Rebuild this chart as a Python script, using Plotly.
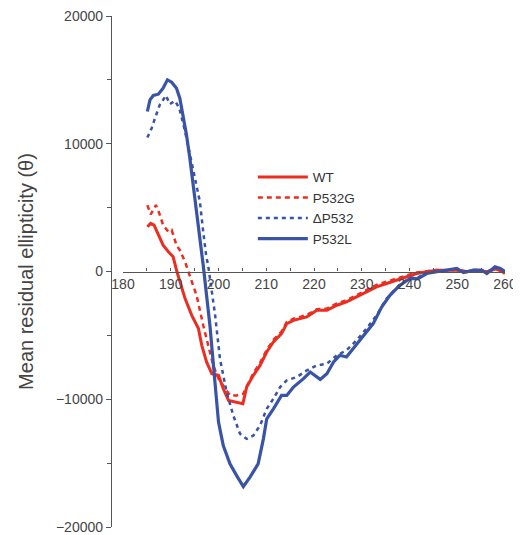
import plotly.graph_objects as go

# ---- data ----
wt_x = [185.1, 185.8, 186.5, 187.4, 188.4, 189.5, 190.5, 191.3, 191.8, 193.0, 194.4, 195.8, 196.5,
        197.5, 198.6, 200.0, 201.0, 202.1, 203.5, 205.1, 205.9, 207.3, 208.7, 210.1, 211.5, 213.2,
        214.3, 215.7, 217.1, 218.5, 220.6, 222.7, 224.8, 226.8, 228.9, 231.0, 233.1, 235.2, 237.3,
        239.4, 241.5, 243.6, 245.7, 247.8, 249.9, 252.0, 254.1, 256.2, 258.3, 260.0]
wt_y = [3500, 3765, 3630, 2850, 2060, 1545, 1150, -20, -700, -2120, -3430, -4470, -5780,
        -7080, -8000, -8130, -9180, -10090, -10220, -10350, -9045, -8130, -7350, -6300, -5515, -4860,
        -4080, -3820, -3690, -3550, -3035, -3035, -2640, -2375, -1985, -1590, -1200, -940, -680,
        -415, -160, -20, 100, 100, 100, -20, 100, -20, 235, -160]

g_x = [185.1, 185.8, 186.9, 187.6, 188.4, 189.5, 190.2, 191.2, 191.9, 193.0, 193.7, 195.4, 196.8,
       197.9, 198.9, 200.0, 201.4, 202.4, 203.8, 205.2, 206.2, 207.3, 208.7, 210.1, 211.5, 213.2,
       214.3, 215.7, 217.1, 218.5, 220.6, 222.7, 224.8, 226.8, 228.9, 231.0, 233.1, 235.2, 237.3,
       239.4, 241.5, 243.6, 245.7, 247.8, 249.9, 252.0, 254.1, 256.2, 258.3, 260.0]
g_y = [5200, 4470, 5200, 4550, 3630, 3110, 3240, 2060, 1670, 760, -20, -1860, -4210,
       -5780, -7350, -8390, -9180, -9700, -9700, -9570, -8780, -7950, -7150, -6150, -5350, -4700,
       -3950, -3700, -3550, -3400, -2950, -2900, -2500, -2250, -1850, -1450, -1050, -800, -520,
       -300, -80, 0, 120, 60, 150, 0, 80, -60, 150, -100]

d_x = [185.1, 186.0, 186.7, 187.7, 189.0, 189.8, 190.9, 191.8, 193.0, 194.0, 195.1, 196.1, 196.8,
       197.4, 197.9, 199.3, 200.3, 201.7, 203.1, 204.5, 205.9, 207.3, 208.7, 210.1, 211.5, 212.9,
       214.3, 216.4, 218.5, 220.6, 222.7, 224.8, 226.8, 228.9, 231.0, 233.1, 235.2, 238.0, 240.1,
       241.8, 243.6, 245.7, 247.8, 249.9, 251.3, 253.4, 255.1, 256.2, 257.9, 259.0, 260.0]
d_y = [10485, 11215, 12000, 13040, 13780, 13100, 13360, 12780, 10960, 9120, 7290, 5470, 3110,
       1300, 300, -3430, -6820, -9440, -11270, -12700, -13100, -12840, -12050, -10745, -9960, -9045,
       -8520, -8260, -7740, -7350, -7215, -6560, -6170, -5390, -4470, -3430, -2120, -1000, -500,
       -450, -120, 0, 120, 200, -40, 120, 100, -100, 300, 250, 0]

l_x = [185.1, 185.65, 186.35, 187.4, 188.4, 189.3, 190.2, 191.2, 191.9, 192.6, 193.3, 194.0, 194.7,
       195.4, 196.1, 196.8, 198.2, 199.3, 200.0, 201.0, 202.4, 203.8, 205.2, 206.6, 208.3, 209.4,
       210.1, 211.5, 213.2, 214.3, 215.7, 217.8, 219.2, 221.3, 222.7, 224.1, 225.4, 226.8, 228.2,
       230.3, 232.4, 234.2, 235.9, 238.0, 240.1, 241.8, 243.6, 245.7, 247.8, 249.9, 251.3, 253.4,
       255.1, 256.2, 257.9, 259.0, 260.0]
l_y = [12525, 13435, 13780, 13880, 14350, 15000, 14820, 14350, 13570, 12260, 10690, 8860, 6770,
       4680, 2590, 490, -4210, -8920, -11790, -13620, -15060, -15980, -16840, -16100, -15060, -13100,
       -11530, -10745, -9700, -9700, -9045, -8390, -7870, -8445, -8000, -7080, -6560, -6690, -6040,
       -5000, -4080, -2770, -1860, -1075, -550, -550, -160, -20, 100, 235, -80, 100,
       100, -160, 370, 235, -20]

series_names = ["WT", "P532G", "\u0394P532", "P532L"]
x_ticks = [180, 190, 200, 210, 220, 230, 240, 250, 260]
y_ticks = [-20000, -10000, 0, 10000, 20000]
y_ticklabels = ["\u221220000", "\u221210000", "0", "10000", "20000"]

RED = "#ec2d1f"
BLUE = "#3953a6"
AX = "#555555"
FONT = "Liberation Sans, Arial, sans-serif"

fig = go.Figure()
fig.add_trace(go.Scatter(x=wt_x, y=wt_y, name=series_names[0], mode="lines",
                         line=dict(color=RED, width=3)))
fig.add_trace(go.Scatter(x=g_x, y=g_y, name=series_names[1], mode="lines",
                         line=dict(color=RED, width=2.5, dash="5px,4px")))
fig.add_trace(go.Scatter(x=d_x, y=d_y, name=series_names[2], mode="lines",
                         line=dict(color=BLUE, width=2.5, dash="4px,4px")))
fig.add_trace(go.Scatter(x=l_x, y=l_y, name=series_names[3], mode="lines",
                         line=dict(color=BLUE, width=3.2)))

# the page body adds an 8px offset, so the figure is 8px smaller than the window
fig.update_layout(
    width=513, height=527,
    margin=dict(l=103, r=16, t=8, b=8),
    plot_bgcolor="white", paper_bgcolor="white",
    font=dict(family=FONT, size=14, color="#444444"),
    showlegend=True,
    legend=dict(x=0.36, y=0.715, xanchor="left", yanchor="top",
                bgcolor="rgba(0,0,0,0)", font=dict(size=13.5, color="#333333"),
                itemwidth=50, tracegroupgap=0),
    xaxis=dict(domain=[12 / 394, 1], range=[180, 260], anchor="free", position=0.5,
               automargin=False, ticklabeloverflow="allow",
               showline=True, linecolor=AX, linewidth=1.3,
               tickmode="array", tickvals=x_ticks, ticks="inside", ticklen=3,
               tickcolor=AX, showgrid=False, zeroline=False,
               minor=dict(dtick=5, ticks="inside", ticklen=3, tickcolor=AX, showgrid=False),
               tickfont=dict(size=14, color="#444444")),
    yaxis=dict(domain=[0, 1], range=[-20000, 20000], anchor="free", position=0,
               automargin=False, ticklabeloverflow="allow",
               showline=True, linecolor=AX, linewidth=1.3,
               tickmode="array", tickvals=y_ticks, ticktext=y_ticklabels,
               ticks="outside", ticklen=5,
               tickcolor=AX, showgrid=False, zeroline=False,
               minor=dict(dtick=5000, ticks="outside", ticklen=4, tickcolor=AX, showgrid=False),
               tickfont=dict(size=14, color="#444444"),
               title=dict(text="Mean residual ellipticity (\u03b8)",
                          font=dict(size=20, color="#444444"), standoff=15)),
)

fig.write_html("out.html")
